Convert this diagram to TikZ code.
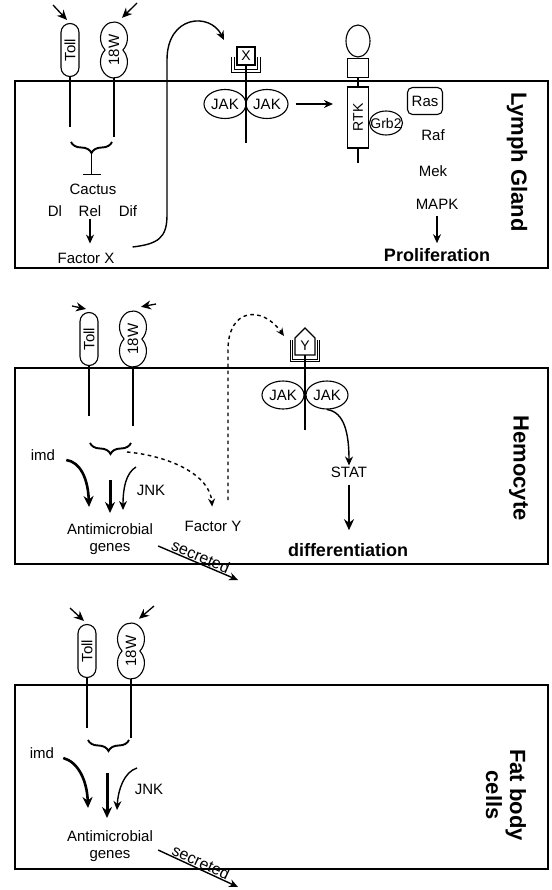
\documentclass[tikz,border=0pt]{standalone}
\usepackage{fontspec}
\setmainfont{Liberation Sans}
\usetikzlibrary{arrows.meta,shapes.geometric,decorations.pathreplacing,positioning}

\tikzset{
  >={Stealth[length=8pt,width=7pt]},
  every node/.style={font=\fontsize{15}{17}\selectfont, inner sep=1pt},
  cell/.style={line width=1.3pt},
  celltext/.style={font=\fontsize{22}{24}\selectfont\bfseries, rotate=-90, align=center},
  outcome/.style={font=\fontsize{18}{20}\selectfont\bfseries},
  toll/.style={draw, line width=1.1pt, rectangle, rounded corners=9pt,
    minimum width=18pt, minimum height=53pt, inner sep=0pt},
  wnode/.style={minimum width=27pt, minimum height=56pt, inner sep=0pt},
  jak/.style={draw, line width=1.1pt, ellipse, minimum width=42pt, minimum height=29pt, inner sep=0pt},
  small/.style={font=\fontsize{14}{16}\selectfont},
  stem/.style={line width=1.2pt},
  ligand/.style={->, line width=1.3pt, >={Stealth[length=10pt,width=9pt]}},
  signal/.style={->, line width=1.4pt, >={Stealth[length=9pt,width=8pt]}},
  heavy/.style={->, line width=2.6pt, >={Stealth[length=11pt,width=10pt]}},
  hop/.style={->, line width=1.4pt, dash pattern=on 3.5pt off 3.5pt},
  cupline/.style={double, double distance=1.6pt, line width=0.9pt},
  bracket/.style={line width=1.9pt, decorate, decoration={brace, amplitude=11pt}},
  secr/.style={sloped, above, inner sep=0.5pt, font=\fontsize{16}{18}\selectfont},
}

\begin{document}
\begin{tikzpicture}[x=1pt, y=1pt]
  \useasboundingbox (0,0) rectangle (551,-890);

  % cells
  \draw[cell] (15,-81) rectangle (548,-268);
  \draw[cell] (15,-368) rectangle (548,-564);
  \draw[cell] (15,-685) rectangle (548,-869);
  \node[celltext] (lymph) at (517,-162) {Lymph Gland};
  \node[celltext] (hemo) at (519,-468) {Hemocyte};
  \node[celltext] (fat) at (506,-795) {Fat body\\cells};

  % Toll and 18W in every cell, brace below
  \foreach \i/\tx/\ty/\ay/\by in {1/70/50/45/142, 2/89/339/33/443, 3/87/651/43/740}
  {
  \node[toll] (toll\i) at (\tx,-\ty) {\rotatebox{90}{Toll}};
  \node[wnode] (w\i) at (\tx+44,-\ty) {\rotatebox{90}{18W}};
  \draw[line width=1.1pt] ([xshift=8.9pt]w\i.center)
    arc[start angle=-48.6, end angle=228.6, x radius=13.5pt, y radius=16pt]
    arc[start angle=131.4, end angle=408.6, x radius=13.5pt, y radius=16pt] -- cycle;
  \coordinate (lt\i) at (\tx-17,-\ty+\ay);
  \coordinate (lw\i) at (\tx+67,-\ty+\ay+2);
  \draw[ligand] (lt\i) -- ([shift={(-3pt,3pt)}]toll\i.north);
  \draw[ligand] (lw\i) -- ([shift={(8pt,4pt)}]w\i.north);
  \coordinate (te\i) at (\tx,-\ty-77);
  \coordinate (we\i) at (\tx+44,-\ty-87);
  \draw[stem] (toll\i.south) -- (te\i);
  \draw[stem] (w\i.south) -- (we\i);
  \coordinate (bl\i) at (\tx+1,-\by);
  \coordinate (br\i) at (\tx+42,-\by);
  \draw[bracket] (br\i) -- (bl\i);
  \coordinate (bt\i) at (\tx+21.5,-\by-12);
  }

  % lymph gland: Toll branch
  \node (cactus) at (93,-189) {Cactus};
  \node (dl) at (55,-211) {Dl};
  \node (rel) at (90,-211) {Rel};
  \node (dif) at (128,-211) {Dif};
  \node (facx) at (86,-258) {Factor X};
  \draw[line width=1.6pt, -{Bar[width=18pt,line width=1.6pt]}, shorten >=7pt] (bt1) -- (bt1 |- cactus.north);
  \draw[signal, shorten <=1pt, shorten >=8pt] (rel.south) -- (rel.south |- facx.north);

  % Factor X goes out and back to its receptor
  \coordinate (xin) at (224,-40);
  \draw[signal] ([shift={(17pt,11pt)}]facx.east) .. controls (158,-244) and (167,-238) ..
    (167,-215) -- (167,-60) .. controls (167,-15) and (210,-12) .. (xin);
  \node[draw, line width=1.1pt, minimum size=18pt, inner sep=0pt, small] (xr) at (246,-56) {X};
  \draw[cupline] (233,-57) -- (233,-71) -- (259,-71) -- (259,-57);
  \coordinate (xe) at (246,-143);
  \draw[stem] (xr.south) -- (xe);
  \node[jak] (jak1) at (225,-104) {JAK};
  \node[jak] (jak2) at (267,-104) {JAK};

  % RTK and the MAPK cascade
  \node[draw, line width=1.1pt, ellipse, minimum width=24pt, minimum height=32pt, inner sep=0pt]
    (rtkhead) at (358,-41) {};
  \node[draw, line width=1.1pt, minimum width=21pt, minimum height=19pt, inner sep=0pt,
    below=0pt of rtkhead] (rtkmid) {};
  \node[draw, line width=1.1pt, minimum width=21pt, minimum height=61pt, inner sep=0pt, small]
    (rtk) at (358,-117.5) {\rotatebox{90}{RTK}};
  \coordinate (rtke) at (358,-163);
  \draw[stem] (rtkmid.south) -- (rtk.north);
  \draw[stem] (rtk.south) -- (rtke);
  \draw[signal, shorten <=7pt, shorten >=14pt] (jak2.east) -- (jak2.east -| rtk.west);
  \node[small] (grb) at (386,-123) {Grb2};
  \draw[line width=1.1pt] (grb) ellipse [x radius=16.5pt, y radius=12pt];
  \node[draw, line width=1.1pt, rounded corners=5pt, minimum width=35pt, minimum height=27pt]
    (ras) at (425,-101) {Ras};
  \node (raf) at (433,-135) {Raf};
  \node (mek) at (433,-171) {Mek};
  \node (mapk) at (437,-204) {MAPK};
  \node[outcome] (prolif) at (437,-255) {Proliferation};
  \draw[signal, shorten <=6pt, shorten >=4pt] (mapk.south) -- (mapk.south |- prolif.north);

  % hemocyte: Factor Y loop
  \node (facy) at (213,-526) {Factor Y};
  \coordinate (ds) at (127,-452);
  \draw[hop, shorten >=13pt] (ds) .. controls (170,-456) and (210,-475) .. (facy.north);
  \node[small, inner sep=0pt] (yr) at (305,-346) {Y};
  \draw[line width=1.1pt] ([shift={(-10pt,-9pt)}]yr.center) -- ++(0pt,17pt) -- ++(10pt,10pt)
    -- ++(10pt,-10pt) -- ++(0pt,-17pt) -- cycle;
  \draw[cupline] (291.5,-340) -- (291.5,-360.5) -- (318.5,-360.5) -- (318.5,-340);
  \coordinate (fyout) at (228,-500);
  \coordinate (yin) at (284,-336);
  \draw[hop] (fyout) -- (228,-350) .. controls (228,-308) and (262,-305) .. (yin);
  \coordinate (ye) at (305,-430);
  \draw[stem] ([yshift=-9pt]yr.center) -- (ye);
  \node[jak, minimum height=28pt] (jak3) at (283,-395) {JAK};
  \node[jak, minimum height=28pt] (jak4) at (327,-395) {JAK};
  \node (stat) at (349,-472) {STAT};
  \node[outcome] (diff) at (348,-550) {differentiation};
  \draw[signal] (jak4.south) .. controls (345,-412) and (349,-435) .. (stat.north);
  \draw[signal, line width=1.8pt, >={Stealth[length=11pt,width=10pt]}, shorten <=6pt, shorten >=12pt]
    (stat.south) -- (stat.south |- diff.north);

  % hemocyte: antimicrobial genes
  \node (imd2) at (43,-455) {imd};
  \node (jnk2) at (151,-490) {JNK};
  \node[align=center] (amp2) at (110,-539) {Antimicrobial\\genes};
  \coordinate (ha2) at (89,-507);
  \coordinate (sa2) at (110,-480);
  \coordinate (hb2) at (110,-513);
  \coordinate (jc2) at (136,-467);
  \coordinate (hc2) at (123,-510);
  \coordinate (sec2) at (238,-580);
  \draw[heavy] ([shift={(10pt,-5pt)}]imd2.east) .. controls (80,-462) and (88,-478) .. (ha2);
  \draw[heavy, line width=3pt] (sa2) -- (hb2);
  \draw[signal] (jc2) .. controls (126,-473) and (123,-488) .. (hc2);
  \draw[signal] ([shift={(4pt,-7pt)}]amp2.east) -- node[secr] {secreted} (sec2);

  % fat body: antimicrobial genes
  \node (imd3) at (42,-753) {imd};
  \node (jnk3) at (149,-789) {JNK};
  \node[align=center] (amp3) at (110,-846) {Antimicrobial\\genes};
  \coordinate (ha3) at (88,-808);
  \coordinate (sa3) at (107,-773);
  \coordinate (hb3) at (107,-818);
  \coordinate (jc3) at (137,-768);
  \coordinate (hc3) at (117,-810);
  \coordinate (sec3) at (238,-887);
  \draw[heavy] ([shift={(8pt,-5pt)}]imd3.east) .. controls (78,-762) and (87,-780) .. (ha3);
  \draw[heavy, line width=3pt] (sa3) -- (hb3);
  \draw[signal] (jc3) .. controls (124,-772) and (118,-790) .. (hc3);
  \draw[signal] ([shift={(4pt,-4pt)}]amp3.east) -- node[secr] {secreted} (sec3);

\end{tikzpicture}
\end{document}
